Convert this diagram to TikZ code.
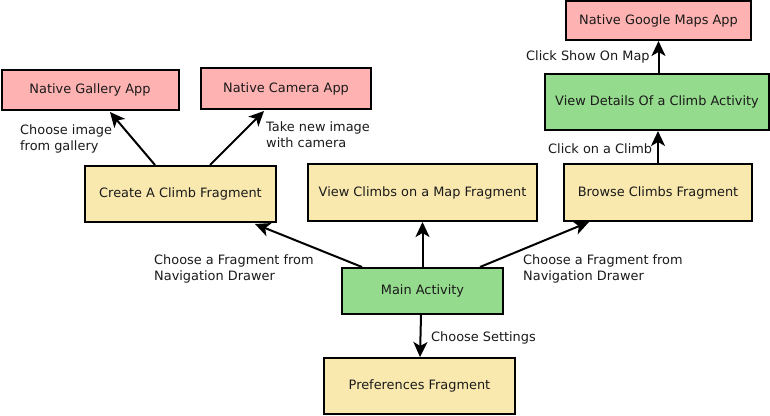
\documentclass[tikz,border=0pt]{standalone}
\usepackage{fontspec}
\setmainfont{DejaVu Sans}
\usetikzlibrary{arrows.meta,calc}
\definecolor{pinkc}{RGB}{255,178,178}
\definecolor{yellowc}{RGB}{250,233,175}
\definecolor{greenc}{RGB}{149,219,141}
\definecolor{txt}{RGB}{26,26,26}
\newcommand{\twolines}[2]{\vtop{\hbox{#1}\hbox{#2}}}
\tikzset{
  box/.style={draw=black, line width=2pt, inner sep=0pt, align=center, text=txt,
    font=\fontsize{12.9}{16}\selectfont},
  lbl/.style={inner sep=0pt, anchor=base west, text=txt,
    font=\fontsize{12.9}{16}\selectfont},
  conn/.style={line width=2pt, -{Stealth[length=15pt,width=14pt,inset=4pt]}}
}
\begin{document}
\begin{tikzpicture}[x=1pt,y=-1pt]
\useasboundingbox (0,0) rectangle (770,415);
\fill[white] (0,0) rectangle (770,415);
% boxes
\node[box, fill=pinkc, minimum width=177pt, minimum height=40pt] (gal) at (90,90) {Native Gallery App};
\node[box, fill=pinkc, minimum width=170pt, minimum height=41pt] (cam) at (286,88.5) {Native Camera App};
\node[box, fill=yellowc, minimum width=191pt, minimum height=56pt] (create) at (180.5,194) {Create A Climb Fragment};
\node[box, fill=yellowc, minimum width=229pt, minimum height=57pt] (map) at (422.5,192.5) {View Climbs on a Map Fragment};
\node[box, fill=yellowc, minimum width=188pt, minimum height=57pt] (browse) at (658,192.5) {Browse Climbs Fragment};
\node[box, fill=greenc, minimum width=161pt, minimum height=46pt] (main) at (422.5,291) {Main Activity};
\node[box, fill=yellowc, minimum width=191pt, minimum height=56pt] (pref) at (419.5,386) {Preferences Fragment};
\node[box, fill=pinkc, minimum width=185pt, minimum height=39pt] (google) at (658.5,20.5) {Native Google Maps App};
\node[box, fill=greenc, minimum width=224pt, minimum height=56pt] (details) at (657,102) {View Details Of a Climb Activity};
% connectors
\draw[conn] ($(create.north)+(-25.5,0)$) -- ($(gal.south)+(20,1)$);
\draw[conn] ($(create.north)+(29.5,0)$) -- ($(cam.south)+(-22,1)$);
\draw[conn] ($(main.north)+(-60.5,0)$) -- ($(create.south)+(74.5,1)$);
\draw[conn] (main.north) -- (map.south);
\draw[conn] ($(main.north)+(57.5,0)$) -- ($(browse.south)+(-69,0)$);
\draw[conn] ($(main.south)+(-1.5,0)$) -- ($(pref.north)+(0.5,0)$);
\draw[conn] (browse.north) -- (browse.north |- details.south);
\draw[conn] (google.south |- details.north) -- (google.south);
% labels
\node[lbl] (l1) at (20,134) {\twolines{Choose image}{from gallery}};
\node[lbl] (l2) at (266,131) {\twolines{Take new image}{with camera}};
\node[lbl] (l3) at (154,264) {\twolines{Choose a Fragment from}{Navigation Drawer}};
\node[lbl] (l4) at (523,264) {\twolines{Choose a Fragment from}{Navigation Drawer}};
\node[lbl] (l5) at (431,341) {Choose Settings};
\node[lbl] (l6) at (548,153) {Click on a Climb};
\node[lbl] (l7) at (526,60) {Click Show On Map};
\end{tikzpicture}
\end{document}
